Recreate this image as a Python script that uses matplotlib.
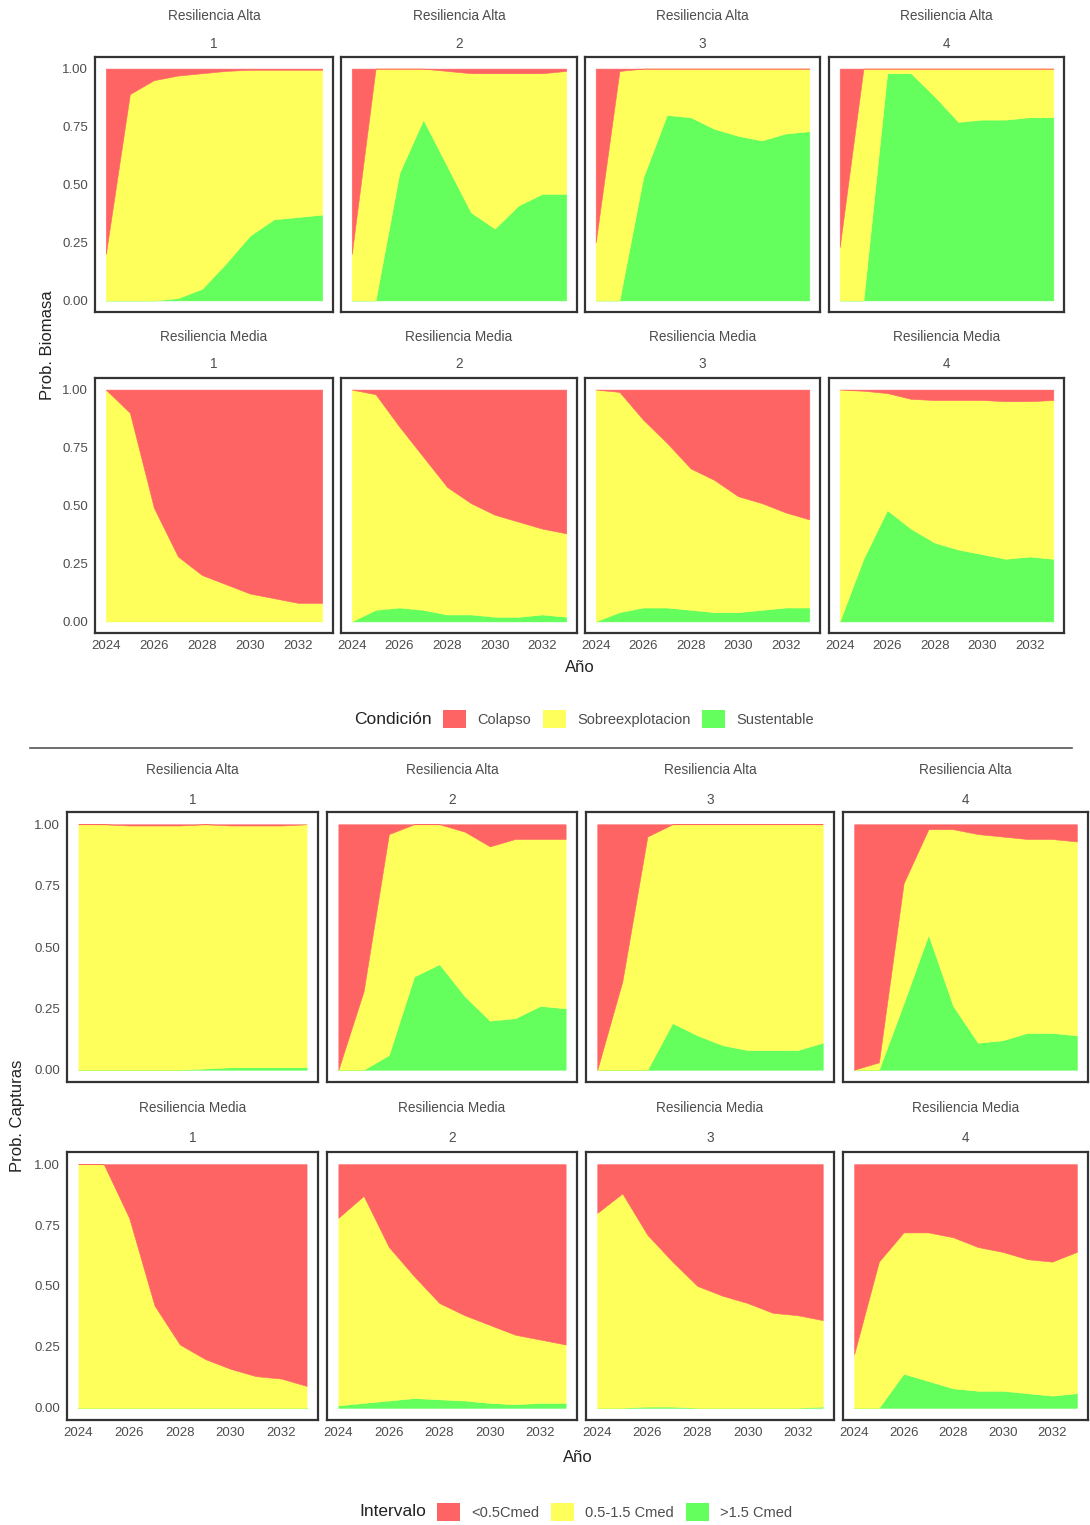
import matplotlib.pyplot as plt
from matplotlib.lines import Line2D
from matplotlib.patches import Patch

plt.rcParams['font.family'] = ['Liberation Sans', 'DejaVu Sans']

W, H = 1090, 1525

years = list(range(2024, 2034))
escenarios = ['1', '2', '3', '4']
resiliencias = ['Resiliencia Alta', 'Resiliencia Media']
x_ticks = [2024, 2026, 2028, 2030, 2032]
y_ticks = [0.0, 0.25, 0.50, 0.75, 1.0]

condiciones = ['Colapso', 'Sobreexplotacion', 'Sustentable']
intervalos = ['<0.5Cmed', '0.5-1.5 Cmed', '>1.5 Cmed']
fill_colors = ['#FF6464', '#FFFF5C', '#64FF5C']   # rojo, amarillo, verde

# ---- Probabilidad de biomasa, resiliencia alta (escenarios 1-4) ----
bio_alta_colapso = [
    [0.80, 0.11, 0.05, 0.03, 0.02, 0.01, 0.005, 0.005, 0.005, 0.005],
    [0.80, 0.00, 0.00, 0.00, 0.01, 0.02, 0.02, 0.02, 0.02, 0.01],
    [0.75, 0.01, 0.00, 0.00, 0.00, 0.00, 0.00, 0.00, 0.00, 0.00],
    [0.77, 0.00, 0.00, 0.00, 0.00, 0.00, 0.00, 0.00, 0.00, 0.00],
]
bio_alta_sobre = [
    [0.20, 0.89, 0.95, 0.96, 0.93, 0.83, 0.715, 0.645, 0.635, 0.625],
    [0.20, 1.00, 0.45, 0.22, 0.41, 0.60, 0.67, 0.57, 0.52, 0.53],
    [0.25, 0.99, 0.47, 0.20, 0.21, 0.26, 0.29, 0.31, 0.28, 0.27],
    [0.23, 1.00, 0.02, 0.02, 0.12, 0.23, 0.22, 0.22, 0.21, 0.21],
]
bio_alta_sust = [
    [0.00, 0.00, 0.00, 0.01, 0.05, 0.16, 0.28, 0.35, 0.36, 0.37],
    [0.00, 0.00, 0.55, 0.78, 0.58, 0.38, 0.31, 0.41, 0.46, 0.46],
    [0.00, 0.00, 0.53, 0.80, 0.79, 0.74, 0.71, 0.69, 0.72, 0.73],
    [0.00, 0.00, 0.98, 0.98, 0.88, 0.77, 0.78, 0.78, 0.79, 0.79],
]

# ---- Probabilidad de biomasa, resiliencia media ----
bio_media_colapso = [
    [0.00, 0.10, 0.51, 0.72, 0.80, 0.84, 0.88, 0.90, 0.92, 0.92],
    [0.00, 0.02, 0.16, 0.29, 0.42, 0.49, 0.54, 0.57, 0.60, 0.62],
    [0.00, 0.01, 0.13, 0.23, 0.34, 0.39, 0.46, 0.49, 0.53, 0.56],
    [0.00, 0.005, 0.015, 0.04, 0.045, 0.045, 0.045, 0.05, 0.05, 0.045],
]
bio_media_sobre = [
    [1.00, 0.90, 0.49, 0.28, 0.20, 0.16, 0.12, 0.10, 0.08, 0.08],
    [1.00, 0.93, 0.78, 0.66, 0.55, 0.48, 0.44, 0.41, 0.37, 0.36],
    [1.00, 0.95, 0.81, 0.71, 0.61, 0.57, 0.50, 0.46, 0.41, 0.38],
    [1.00, 0.725, 0.505, 0.56, 0.615, 0.645, 0.665, 0.68, 0.67, 0.685],
]
bio_media_sust = [
    [0.00, 0.00, 0.00, 0.00, 0.00, 0.00, 0.00, 0.00, 0.00, 0.00],
    [0.00, 0.05, 0.06, 0.05, 0.03, 0.03, 0.02, 0.02, 0.03, 0.02],
    [0.00, 0.04, 0.06, 0.06, 0.05, 0.04, 0.04, 0.05, 0.06, 0.06],
    [0.00, 0.27, 0.48, 0.40, 0.34, 0.31, 0.29, 0.27, 0.28, 0.27],
]

# ---- Probabilidad de capturas, resiliencia alta ----
cap_alta_bajo = [
    [0.00, 0.00, 0.005, 0.005, 0.005, 0.00, 0.005, 0.005, 0.005, 0.00],
    [1.00, 0.68, 0.04, 0.00, 0.00, 0.03, 0.09, 0.06, 0.06, 0.06],
    [1.00, 0.64, 0.05, 0.00, 0.00, 0.00, 0.00, 0.00, 0.00, 0.00],
    [1.00, 0.97, 0.24, 0.02, 0.02, 0.04, 0.05, 0.06, 0.06, 0.07],
]
cap_alta_medio = [
    [1.00, 1.00, 0.995, 0.995, 0.995, 0.995, 0.985, 0.985, 0.985, 0.99],
    [0.00, 0.32, 0.90, 0.62, 0.57, 0.67, 0.71, 0.73, 0.68, 0.69],
    [0.00, 0.36, 0.95, 0.81, 0.86, 0.90, 0.92, 0.92, 0.92, 0.89],
    [0.00, 0.03, 0.49, 0.43, 0.72, 0.85, 0.83, 0.79, 0.79, 0.79],
]
cap_alta_alto = [
    [0.00, 0.00, 0.00, 0.00, 0.00, 0.005, 0.01, 0.01, 0.01, 0.01],
    [0.00, 0.00, 0.06, 0.38, 0.43, 0.30, 0.20, 0.21, 0.26, 0.25],
    [0.00, 0.00, 0.00, 0.19, 0.14, 0.10, 0.08, 0.08, 0.08, 0.11],
    [0.00, 0.00, 0.27, 0.55, 0.26, 0.11, 0.12, 0.15, 0.15, 0.14],
]

# ---- Probabilidad de capturas, resiliencia media ----
cap_media_bajo = [
    [0.00, 0.00, 0.22, 0.58, 0.74, 0.80, 0.84, 0.87, 0.88, 0.91],
    [0.22, 0.13, 0.34, 0.46, 0.57, 0.62, 0.66, 0.70, 0.72, 0.74],
    [0.20, 0.12, 0.29, 0.40, 0.50, 0.54, 0.57, 0.61, 0.62, 0.64],
    [0.78, 0.40, 0.28, 0.28, 0.30, 0.34, 0.36, 0.39, 0.40, 0.36],
]
cap_media_medio = [
    [1.00, 1.00, 0.78, 0.42, 0.26, 0.20, 0.16, 0.13, 0.12, 0.09],
    [0.77, 0.85, 0.63, 0.50, 0.395, 0.35, 0.32, 0.285, 0.26, 0.24],
    [0.80, 0.88, 0.705, 0.595, 0.50, 0.46, 0.43, 0.39, 0.38, 0.355],
    [0.22, 0.60, 0.58, 0.61, 0.62, 0.59, 0.57, 0.55, 0.55, 0.58],
]
cap_media_alto = [
    [0.00, 0.00, 0.00, 0.00, 0.00, 0.00, 0.00, 0.00, 0.00, 0.00],
    [0.01, 0.02, 0.03, 0.04, 0.035, 0.03, 0.02, 0.015, 0.02, 0.02],
    [0.00, 0.00, 0.005, 0.005, 0.00, 0.00, 0.00, 0.00, 0.00, 0.005],
    [0.00, 0.00, 0.14, 0.11, 0.08, 0.07, 0.07, 0.06, 0.05, 0.06],
]

TXT = '#4D4D4D'
fig = plt.figure(figsize=(W / 100, H / 100), dpi=100)


def px_axes(x0, x1, y0, y1):
    # rectangle given in pixels, origin top-left
    return fig.add_axes([x0 / W, 1 - y1 / H, (x1 - x0) / W, (y1 - y0) / H])


def draw_block(cols, rows, strip_y, series, ylabel, ylabel_x, xlabel_y,
               legend_title, labels, legend_y, legend_x):
    for r, (y0, y1) in enumerate(rows):
        red, yellow, green = series[r]
        for c, (x0, x1) in enumerate(cols):
            ax = px_axes(x0, x1, y0, y1)
            ax.stackplot(years, green[c], yellow[c], red[c],
                         colors=[fill_colors[2], fill_colors[1], fill_colors[0]],
                         linewidth=0.4, edgecolor='face')
            ax.set_xlim(2024 - 0.45, 2033 + 0.45)
            ax.set_ylim(-0.05, 1.05)
            ax.set_xticks(x_ticks)
            ax.set_yticks(y_ticks)
            ax.tick_params(length=0, pad=5, labelsize=9.5, labelcolor=TXT)
            if c == 0:
                ax.set_yticklabels([f'{v:.2f}' for v in y_ticks])
            else:
                ax.set_yticklabels([])
            if r == len(rows) - 1:
                ax.set_xticklabels([str(t) for t in x_ticks])
            else:
                ax.set_xticklabels([])
            for s in ax.spines.values():
                s.set_color('#333333')
                s.set_linewidth(1.6)
            xc = (x0 + x1) / 2
            fig.text(xc / W, 1 - strip_y[r][0] / H, resiliencias[r],
                     ha='center', va='center', fontsize=9.8, color=TXT)
            fig.text(xc / W, 1 - strip_y[r][1] / H, escenarios[c],
                     ha='center', va='center', fontsize=9.8, color=TXT)

    fig.text(ylabel_x / W, 1 - (rows[0][0] + rows[-1][1]) / 2 / H, ylabel,
             rotation=90, ha='center', va='center', fontsize=12, color='#222222')
    fig.text((cols[0][0] + cols[-1][1]) / 2 / W, 1 - xlabel_y / H, 'Año',
             ha='center', va='center', fontsize=12, color='#222222')

    fig.text(legend_x / W, 1 - legend_y / H, legend_title, ha='right',
             va='center', fontsize=12.5, color='#222222')
    handles = [Patch(facecolor=fc, edgecolor='none', label=lb)
               for fc, lb in zip(fill_colors, labels)]
    fig.legend(handles=handles, loc='center left',
               bbox_to_anchor=((legend_x + 11) / W, 1 - legend_y / H),
               ncol=3, frameon=False, fontsize=10.5, labelcolor=TXT,
               handlelength=1.6, handleheight=1.6, handletextpad=0.75,
               columnspacing=0.8, borderpad=0, borderaxespad=0)


# Biomasa
draw_block(cols=[(95, 333), (341, 577), (585, 820), (829, 1064)],
           rows=[(57, 312), (378, 633)],
           strip_y=[(16, 44), (337, 364)],
           series=[(bio_alta_colapso, bio_alta_sobre, bio_alta_sust),
                   (bio_media_colapso, bio_media_sobre, bio_media_sust)],
           ylabel='Prob. Biomasa', ylabel_x=47, xlabel_y=668,
           legend_title='Condición', labels=condiciones,
           legend_y=719, legend_x=432)

# separador entre los dos paneles
fig.add_artist(Line2D([30 / W, 1072 / W], [1 - 748 / H, 1 - 748 / H],
                      color='#555555', linewidth=1.2))

# Capturas
draw_block(cols=[(67, 318), (327, 577), (586, 834), (843, 1088)],
           rows=[(812, 1082), (1152, 1420)],
           strip_y=[(770, 800), (1108, 1138)],
           series=[(cap_alta_bajo, cap_alta_medio, cap_alta_alto),
                   (cap_media_bajo, cap_media_medio, cap_media_alto)],
           ylabel='Prob. Capturas', ylabel_x=18, xlabel_y=1458,
           legend_title='Intervalo', labels=intervalos,
           legend_y=1512, legend_x=426)

fig.savefig('out.png', dpi=100, facecolor='white')
